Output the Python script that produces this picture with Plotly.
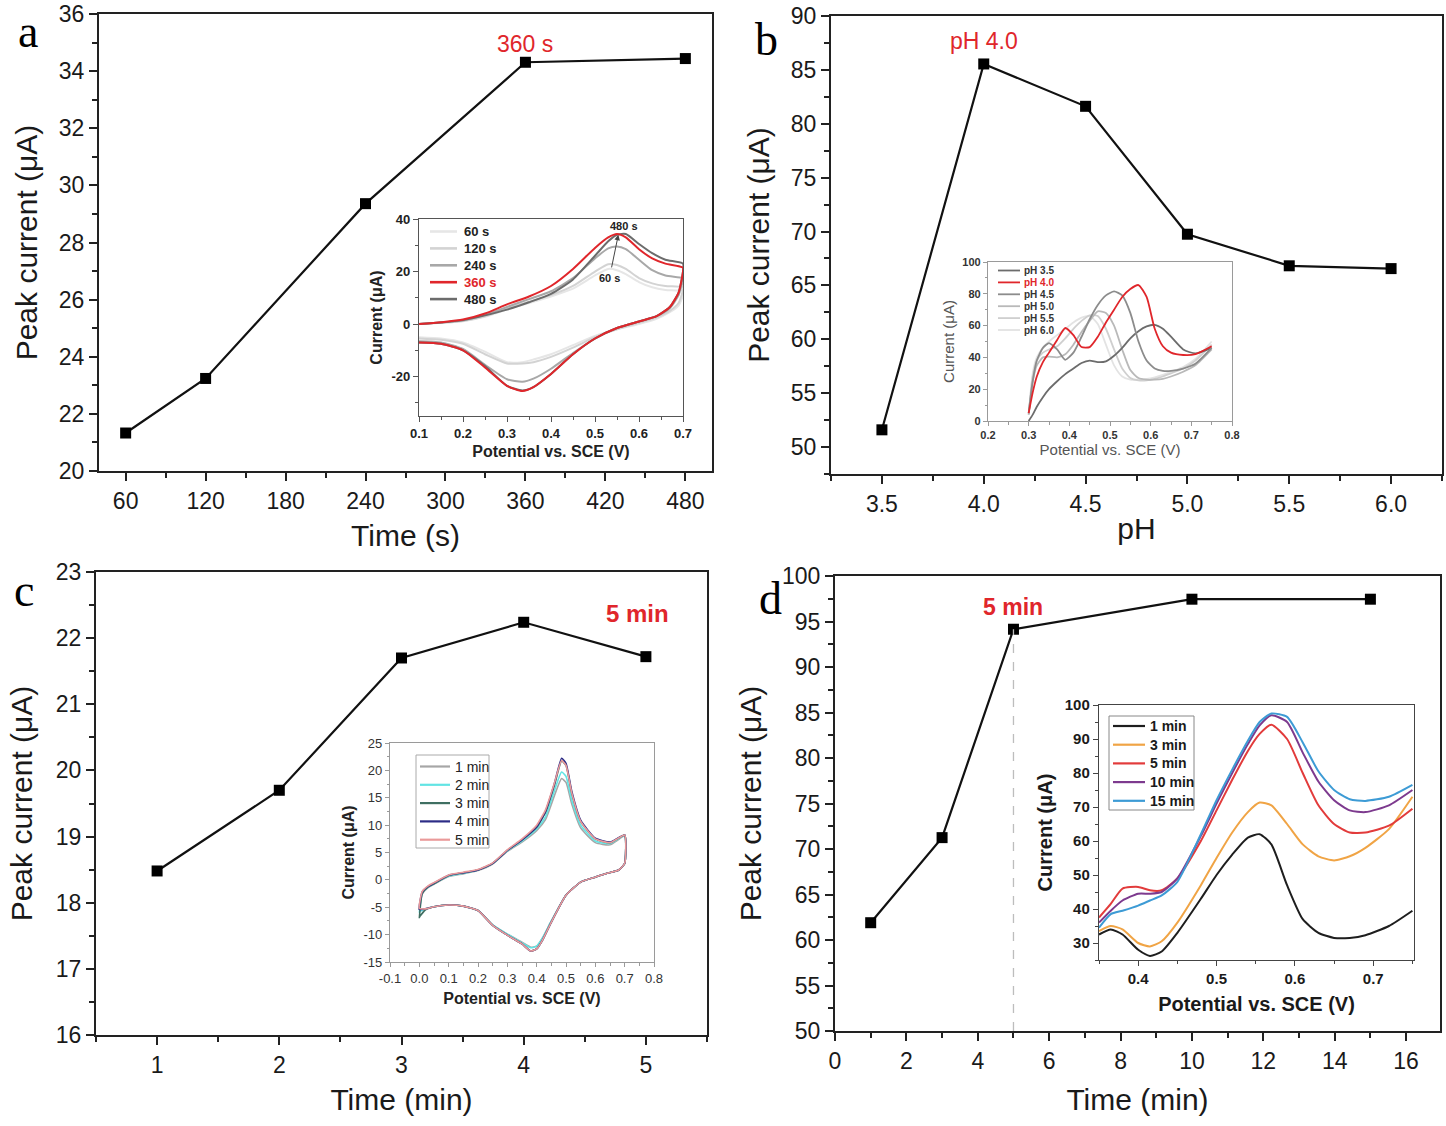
import plotly.graph_objects as go

# ---------------- data ----------------
# panel a: accumulation time
time_a = [60, 120, 240, 360, 480]
peak_a = [21.33, 23.24, 29.36, 34.31, 34.44]
# panel b: pH
ph_b = [3.5, 4.0, 4.5, 5.0, 5.5, 6.0]
peak_b = [51.6, 85.55, 81.62, 69.75, 66.82, 66.56]
# panel c: time (min)
time_c = [1, 2, 3, 4, 5]
peak_c = [18.48, 19.70, 21.70, 22.24, 21.72]
# panel d: time (min)
time_d = [1, 3, 5, 10, 15]
peak_d = [61.9, 71.25, 94.15, 97.45, 97.45]

# inset a: CV loops (forward then reverse scan)
cv_a_x = [0.10, 0.15, 0.20, 0.25, 0.30, 0.35, 0.40, 0.45, 0.50, 0.53, 0.55, 0.57, 0.60, 0.63, 0.66, 0.70,
          0.70, 0.69, 0.67, 0.64, 0.60, 0.55, 0.50, 0.45, 0.40, 0.36, 0.335, 0.30, 0.25, 0.20, 0.15, 0.10]
cv_a_60 = [0, 0.5, 1.1, 2.8, 5.5, 8, 10.5, 13.5, 18.5, 21, 20.5, 19, 16, 14, 13, 12.5,
           11, 7, 4.5, 2, 0, -2, -4.5, -8, -11.5, -13.5, -14.5, -14.5, -10.5, -7, -5.5, -5]
cv_a_120 = [0, 0.5, 1.2, 3, 6, 8.5, 11, 14.5, 20, 22.8, 22.5, 21, 17.5, 15.5, 14.5, 14,
            13, 8, 5, 2.5, 0.5, -2, -5, -9, -12.5, -14.5, -15, -15, -11.5, -7.5, -6, -5.5]
cv_a_240 = [0, 0.6, 1.4, 3.5, 6.5, 9.5, 12.5, 17.5, 25, 28.8, 29.5, 28.5, 24.5, 20.5, 18.5, 17.5,
            17, 11, 6, 3, 1, -1.5, -5.5, -11, -17, -20.8, -22, -21, -15.5, -9.5, -7, -6.5]
cv_a_360 = [0, 0.7, 1.7, 4, 7.5, 10.5, 14.5, 21, 29, 33, 34.3, 33, 28.5, 25, 23, 21.5,
            20, 12, 6.5, 3, 1, -1.5, -5.5, -11.5, -19, -24, -25.5, -23.5, -16.5, -10, -7.5, -7]
cv_a_480 = [0, 0.6, 1.5, 3.3, 5.5, 8.3, 11.5, 17, 26, 31.5, 34, 34.3, 30.5, 27, 24.5, 23,
            20, 12, 6.5, 3, 1, -1.5, -5.5, -11.5, -19, -24, -25.3, -23.5, -16, -10, -7.5, -7]
labels_a = ["60 s", "120 s", "240 s", "360 s", "480 s"]

# inset b: DPV curves at different pH
dpv_b_x = [0.30, 0.31, 0.32, 0.335, 0.35, 0.37, 0.39, 0.41, 0.43, 0.45, 0.47, 0.49, 0.51, 0.53, 0.55,
           0.57, 0.59, 0.61, 0.63, 0.65, 0.68, 0.71, 0.75]
dpv_b_35 = [0, 4, 9, 15, 20, 25, 29.5, 33, 36.5, 38, 37, 37.5, 41, 46, 52, 56.5, 59.5, 60.5, 58, 53, 45, 42.5, 46]
dpv_b_40 = [5, 18, 28, 37, 43, 51, 58.5, 54, 46.5, 46.5, 53, 62, 70, 78, 83, 85.5, 78, 58, 47, 43, 41.5, 42, 47]
dpv_b_45 = [5, 25, 38, 46, 49, 45, 38.5, 43, 53, 64, 73, 79, 81.5, 79, 68, 50, 38, 33, 31.5, 31.5, 33, 36, 46]
dpv_b_50 = [4, 25, 35, 40, 40.5, 40, 42, 48, 56, 63, 69, 68, 60, 45, 32, 27, 26, 26, 26.5, 28, 31, 35, 45]
dpv_b_55 = [4, 28, 38, 43, 45, 47, 52, 58, 63, 66.5, 66, 58, 45, 33, 27, 25.5, 25.5, 26.5, 28, 30, 33, 38, 48]
dpv_b_60 = [4, 30, 40, 46, 50, 54, 58, 62, 65, 66, 61, 48, 35, 28, 26, 26, 26.5, 27.5, 29, 31, 34, 39, 50]
labels_b = ["pH 3.5", "pH 4.0", "pH 4.5", "pH 5.0", "pH 5.5", "pH 6.0"]

# inset c: CV loops
cv_c_x = [0.0, 0.01, 0.03, 0.05, 0.1, 0.15, 0.2, 0.25, 0.3, 0.35, 0.4, 0.43, 0.46, 0.485, 0.5, 0.52, 0.55, 0.6, 0.65, 0.7,
          0.7, 0.68, 0.64, 0.6, 0.55, 0.5, 0.45, 0.42, 0.4, 0.38, 0.35, 0.3, 0.25, 0.2, 0.15, 0.1, 0.05, 0.02, 0.0]
cv_c_1 = [-5.5, -2.5, -1.4, -0.8, 0.6, 1.1, 1.7, 2.9, 5.2, 6.9, 9, 11, 15.3, 18.5, 17.8, 13.8, 9.5, 6.8, 6.4, 8,
          3, 1.8, 1.2, 0.5, -0.4, -2.8, -7.5, -10.6, -12.1, -12.3, -11.4, -9.9, -8.2, -5.6, -4.8, -4.6, -4.9, -5.3, -5.6]
cv_c_2 = [-6, -2.4, -1.3, -0.7, 0.7, 1.2, 1.8, 3, 5.3, 7.1, 9.3, 11.5, 16.2, 19.7, 18.9, 14.5, 10, 7.1, 6.6, 8.1,
          3, 1.8, 1.2, 0.5, -0.4, -2.8, -7.5, -10.6, -12.1, -12.4, -11.5, -9.9, -8.2, -5.6, -4.8, -4.6, -4.9, -5.3, -5.8]
cv_c_3 = [-7, -2.5, -1.3, -0.7, 0.8, 1.3, 1.8, 3, 5.4, 7.3, 9.6, 12.3, 17.2, 21.7, 20.9, 15.7, 10.7, 7.5, 6.8, 8.2,
          3, 1.8, 1.2, 0.5, -0.4, -2.8, -7.7, -11, -12.6, -13, -11.7, -10.1, -8.3, -5.6, -4.8, -4.6, -4.9, -5.5, -6.8]
cv_c_4 = [-5.4, -2.2, -1.2, -0.6, 0.85, 1.3, 1.8, 3, 5.4, 7.3, 9.7, 12.5, 17.5, 22.2, 21.3, 16.1, 10.9, 7.6, 6.9, 8.2,
          3, 1.8, 1.2, 0.5, -0.4, -2.8, -7.7, -11, -12.6, -13, -11.7, -10.1, -8.3, -5.6, -4.8, -4.6, -4.9, -5.3, -5.4]
cv_c_5 = [-5.2, -2.1, -1.1, -0.5, 0.9, 1.4, 1.9, 3.1, 5.5, 7.5, 10, 12.8, 17.6, 21.8, 20.9, 15.8, 10.7, 7.5, 6.8, 8.2,
          3, 1.8, 1.2, 0.5, -0.4, -2.8, -7.7, -11, -12.6, -13, -11.7, -10.1, -8.3, -5.6, -4.8, -4.6, -4.9, -5.3, -5.2]
labels_c = ["1 min", "2 min", "3 min", "4 min", "5 min"]

# inset d: DPV curves
dpv_d_x = [0.35, 0.365, 0.38, 0.40, 0.415, 0.43, 0.45, 0.48, 0.50, 0.52, 0.54, 0.555, 0.57, 0.59, 0.61,
           0.63, 0.65, 0.67, 0.69, 0.72, 0.75]
dpv_d_1 = [32.5, 34, 32.5, 28, 26.2, 27.5, 33, 43, 50, 56, 61, 62, 59, 47, 37, 33, 31.5, 31.5, 32.3, 35, 39.5]
dpv_d_3 = [33.5, 35, 34, 30, 29, 30.5, 36, 47, 55, 62.5, 68.5, 71.3, 70.5, 65, 59, 55.5, 54.3, 55.5, 58, 63.5, 73]
dpv_d_5 = [37.5, 41.5, 46, 46.5, 45.5, 45.5, 49, 60, 69, 78, 86.5, 91.5, 94.2, 90, 80, 70.5, 65, 62.5, 62.5, 64.5, 69.5]
dpv_d_10 = [36, 39.5, 42.5, 44.5, 44.5, 45, 49, 61.5, 71, 80, 88.5, 94, 97, 95, 86, 77.5, 72, 69, 68.5, 70.5, 75]
dpv_d_15 = [34.5, 38.5, 39.5, 41, 42.5, 44, 48, 62, 72, 81, 89.5, 95, 97.5, 96.5, 89, 80.5, 75, 72.3, 71.8, 73, 76.5]
labels_d = ["1 min", "3 min", "5 min", "10 min", "15 min"]

# ---------------- styling ----------------
W, H = 1446, 1126
SANS = "Liberation Sans, Arial, sans-serif"
SERIF = "Liberation Serif, Times New Roman, serif"
RED = "#e0262b"


def dx(a, b):
    return [a / W, b / W]


def dy(top, bottom):
    return [1 - bottom / H, 1 - top / H]


def axis(dom, rng, anchor, dtick, tick0, mdtick, font, title, tfont, standoff, lc, lw, tl,
         fmt=None, tickvals=None, ticktext=None):
    d = dict(domain=dom, range=rng, anchor=anchor, showline=True, mirror=True, linecolor=lc,
             linewidth=lw, ticks="outside", ticklen=tl, tickwidth=lw, tickcolor=lc, tickfont=font,
             showgrid=False, zeroline=False, fixedrange=True, automargin=False,
             title=dict(text=title, font=font if tfont is None else tfont, standoff=standoff),
             minor=dict(ticks="outside", ticklen=max(2, tl * 0.6), tickwidth=lw, tickcolor=lc,
                        tickmode="linear", tick0=tick0, dtick=mdtick, showgrid=False))
    if tickvals is not None:
        d.update(tickmode="array", tickvals=tickvals, ticktext=ticktext)
    else:
        d.update(tickmode="linear", dtick=dtick, tick0=tick0)
    if fmt:
        d["tickformat"] = fmt
    return d


fig = go.Figure()

main_tick = dict(family=SANS, size=23, color="#1a1a1a")
main_title = dict(family=SANS, size=30, color="#1a1a1a")
LC, LW, TL = "#222222", 2, 8

# main panels
for xs, ys, xa, ya in [(time_a, peak_a, "x", "y"), (ph_b, peak_b, "x2", "y2"),
                       (time_c, peak_c, "x3", "y3"), (time_d, peak_d, "x4", "y4")]:
    fig.add_trace(go.Scatter(x=xs, y=ys, xaxis=xa, yaxis=ya, mode="lines+markers",
                             line=dict(color="#111111", width=2.2),
                             marker=dict(symbol="square", size=11, color="#000000"),
                             showlegend=False, hoverinfo="skip"))

# dashed guide at the optimum of panel d
fig.add_trace(go.Scatter(x=[time_d[2], time_d[2]], y=[50, peak_d[2]], xaxis="x4", yaxis="y4",
                         mode="lines", line=dict(color="#bdbdbd", width=1.3, dash="dash"),
                         showlegend=False, hoverinfo="skip"))

# inset a
ins_a = [(cv_a_60, "#e6e6e6"), (cv_a_120, "#d3d3d3"), (cv_a_240, "#a8a8a8"), (cv_a_480, "#6c6c6c"),
         (cv_a_360, RED)]
for ys, col in ins_a:
    fig.add_trace(go.Scatter(x=cv_a_x, y=ys, xaxis="x5", yaxis="y5", mode="lines",
                             line=dict(color=col, width=2, shape="spline", smoothing=0.6),
                             showlegend=False, hoverinfo="skip"))
cols_a = ["#e6e6e6", "#d3d3d3", "#a8a8a8", RED, "#6c6c6c"]

# inset b
cols_b = ["#6c6c6c", RED, "#8c8c8c", "#b9b9b9", "#cfcfcf", "#e3e3e3"]
ins_b = [dpv_b_60, dpv_b_55, dpv_b_50, dpv_b_35, dpv_b_45, dpv_b_40]
ord_b = [5, 4, 3, 0, 2, 1]
for ys, k in zip(ins_b, ord_b):
    fig.add_trace(go.Scatter(x=dpv_b_x, y=ys, xaxis="x6", yaxis="y6", mode="lines",
                             line=dict(color=cols_b[k], width=1.8, shape="spline", smoothing=0.6),
                             showlegend=False, hoverinfo="skip"))

# inset c
cols_c = ["#a6a6a6", "#62e4e4", "#3f6f62", "#2c2c86", "#ea9a9a"]
for ys, col in zip([cv_c_1, cv_c_2, cv_c_3, cv_c_4, cv_c_5], cols_c):
    fig.add_trace(go.Scatter(x=cv_c_x, y=ys, xaxis="x7", yaxis="y7", mode="lines",
                             line=dict(color=col, width=1.6, shape="spline", smoothing=0.5),
                             showlegend=False, hoverinfo="skip"))

# inset d
cols_d = ["#1e1e1e", "#f0a445", "#e23b3b", "#7d3a8e", "#3d9bd5"]
for ys, col in zip([dpv_d_1, dpv_d_3, dpv_d_5, dpv_d_10, dpv_d_15], cols_d):
    fig.add_trace(go.Scatter(x=dpv_d_x, y=ys, xaxis="x8", yaxis="y8", mode="lines",
                             line=dict(color=col, width=2, shape="spline", smoothing=0.6),
                             showlegend=False, hoverinfo="skip"))

# ---------------- axes ----------------
lay = {}
lay["xaxis"] = axis(dx(99, 712), [40, 500], "y", 60, 60, 30, main_tick, "Time (s)", main_title, 12, LC, LW, TL)
lay["yaxis"] = axis(dy(14, 471), [20, 36], "x", 2, 20, 1, main_tick, "Peak current (μA)", main_title, 12, LC, LW, TL)
lay["xaxis2"] = axis(dx(831, 1442), [3.25, 6.25], "y2", 0.5, 3.5, 0.25, main_tick, "pH", main_title, 2, LC, LW, TL, fmt=".1f")
lay["yaxis2"] = axis(dy(16, 474), [47.5, 90], "x2", 5, 50, 2.5, main_tick, "Peak current (μA)", main_title, 12, LC, LW, TL)
lay["xaxis3"] = axis(dx(96, 707), [0.5, 5.5], "y3", 1, 1, 0.5, main_tick, "Time (min)", main_title, 12, LC, LW, TL)
lay["yaxis3"] = axis(dy(572, 1035), [16, 23], "x3", 1, 16, 0.5, main_tick, "Peak current (μA)", main_title, 14, LC, LW, TL)
lay["xaxis4"] = axis(dx(835, 1440), [0, 16.95], "y4", 2, 0, 1, main_tick, "Time (min)", main_title, 16, LC, LW, TL)
lay["yaxis4"] = axis(dy(576, 1031), [50, 100], "x4", 5, 50, 2.5, main_tick, "Peak current (μA)", main_title, 12, LC, LW, TL)

# inset axes
fa = dict(family=SANS, size=13, color="#222222")
fat = dict(family=SANS, size=16, color="#222222")
va = [-20, 0, 20, 40]
lay["xaxis5"] = axis(dx(419, 683), [0.1, 0.7], "y5", 0.1, 0.1, 0.05, fa, "<b>Potential vs. SCE (V)</b>", fat, 6,
                     "#555555", 1.4, 5, fmt=".1f")
lay["yaxis5"] = axis(dy(219, 416), [-35, 40], "x5", 20, -20, 10, fa, "<b>Current (μA)</b>", fat, 4,
                     "#555555", 1.4, 5, tickvals=va, ticktext=[f"<b>{v}</b>" for v in va])
lay["xaxis5"]["tickprefix"] = "<b>"
lay["xaxis5"]["ticksuffix"] = "</b>"

fb = dict(family=SANS, size=11, color="#333333")
fbt = dict(family=SANS, size=15, color="#555555")
lay["xaxis6"] = axis(dx(988, 1232), [0.2, 0.8], "y6", 0.1, 0.2, 0.05, fb, "Potential vs. SCE (V)", fbt, 4,
                     "#9a9a9a", 1.2, 4, fmt=".1f")
lay["yaxis6"] = axis(dy(262, 421), [0, 100], "x6", 20, 0, 10, fb, "Current (μA)", fbt, 4,
                     "#9a9a9a", 1.2, 4)
for k in ["xaxis6", "yaxis6"]:
    lay[k]["tickprefix"] = "<b>"
    lay[k]["ticksuffix"] = "</b>"

fc = dict(family=SANS, size=13, color="#333333")
fct = dict(family=SANS, size=16, color="#222222")
vcx = [-0.1, 0.0, 0.1, 0.2, 0.3, 0.4, 0.5, 0.6, 0.7, 0.8]
vcy = [-15, -10, -5, 0, 5, 10, 15, 20, 25]
lay["xaxis7"] = axis(dx(390, 654), [-0.1, 0.8], "y7", 0.1, -0.1, 0.05, fc, "<b>Potential vs. SCE (V)</b>", fct, 8,
                     "#9a9a9a", 1.2, 4, tickvals=vcx, ticktext=[f"{v:.1f}" for v in vcx])
lay["yaxis7"] = axis(dy(743, 962), [-15, 25], "x7", 5, -15, 2.5, fc, "<b>Current (μA)</b>", fct, 4,
                     "#9a9a9a", 1.2, 4, tickvals=vcy, ticktext=[str(v) for v in vcy])

fd = dict(family=SANS, size=15, color="#1a1a1a")
fdt = dict(family=SANS, size=20, color="#1a1a1a")
lay["xaxis8"] = axis(dx(1099, 1414), [0.35, 0.752], "y8", 0.1, 0.4, 0.05, fd, "<b>Potential vs. SCE (V)</b>", fdt, 10,
                     "#444444", 1.4, 5, fmt=".1f")
lay["yaxis8"] = axis(dy(705, 960), [25, 100], "x8", 10, 30, 5, fd, "<b>Current (μA)</b>", fdt, 6,
                     "#444444", 1.4, 5)
for k in ["xaxis8", "yaxis8"]:
    lay[k]["tickprefix"] = "<b>"
    lay[k]["ticksuffix"] = "</b>"

fig.update_layout(**lay)

# ---------------- annotations & legends ----------------
ann = []
shapes = []


def P(px, py):
    return px / W, 1 - py / H


for t, px, py in [("a", 28, 32), ("b", 766, 40), ("c", 24, 590), ("d", 770, 598)]:
    x, y = P(px, py)
    ann.append(dict(text=t, x=x, y=y, xref="paper", yref="paper", showarrow=False,
                    font=dict(family=SERIF, size=46, color="#000000"), xanchor="center", yanchor="middle"))

ann.append(dict(text="360 s", x=time_a[3], y=34.95, xref="x", yref="y", showarrow=False,
                font=dict(family=SANS, size=23, color=RED), xanchor="center", yanchor="middle"))
ann.append(dict(text="pH 4.0", x=ph_b[1], y=87.7, xref="x2", yref="y2", showarrow=False,
                font=dict(family=SANS, size=23, color=RED), xanchor="center", yanchor="middle"))
ann.append(dict(text="<b>5 min</b>", x=4.93, y=22.37, xref="x3", yref="y3", showarrow=False,
                font=dict(family=SANS, size=24, color=RED), xanchor="center", yanchor="middle"))
ann.append(dict(text="<b>5 min</b>", x=time_d[2], y=96.6, xref="x4", yref="y4", showarrow=False,
                font=dict(family=SANS, size=23, color=RED), xanchor="center", yanchor="middle"))

# arrow in inset a
ann.append(dict(text="", x=0.553, y=34.0, ax=0.537, ay=21.0, xref="x5", yref="y5", axref="x5", ayref="y5",
                showarrow=True, arrowhead=2, arrowsize=1.1, arrowwidth=1, arrowcolor="#444444"))
ann.append(dict(text="<b>480 s</b>", x=0.567, y=37.3, xref="x5", yref="y5", showarrow=False,
                font=dict(family=SANS, size=11, color="#222222")))
ann.append(dict(text="<b>60 s</b>", x=0.533, y=17.6, xref="x5", yref="y5", showarrow=False,
                font=dict(family=SANS, size=11, color="#222222")))


def legend(labels, colors, x0, x1, xt, y0, ddy, font, lw, textcolors):
    for i, (lab, col, tc) in enumerate(zip(labels, colors, textcolors)):
        yy = y0 + i * ddy
        xa, ya = P(x0, yy)
        xb, _ = P(x1, yy)
        shapes.append(dict(type="line", xref="paper", yref="paper", x0=xa, x1=xb, y0=ya, y1=ya,
                           line=dict(color=col, width=lw)))
        xt_, _ = P(xt, yy)
        f = dict(font)
        f["color"] = tc
        ann.append(dict(text=lab, x=xt_, y=ya, xref="paper", yref="paper", showarrow=False,
                        xanchor="left", yanchor="middle", font=f))


legend([f"<b>{l}</b>" for l in labels_a], cols_a, 430, 457, 462, 231.5, 16.9,
       dict(family=SANS, size=13), 2.6, ["#222222", "#222222", "#222222", RED, "#222222"])
legend([f"<b>{l}</b>" for l in labels_b], cols_b, 998, 1020, 1022, 270.5, 11.9,
       dict(family=SANS, size=10), 1.8, ["#333333", RED, "#333333", "#333333", "#333333", "#333333"])
legend(labels_c, cols_c, 420, 450, 453, 766.5, 18.3, dict(family=SANS, size=14), 2.2, ["#222222"] * 5)
legend([f"<b>{l}</b>" for l in labels_d], cols_d, 1113, 1145, 1148, 726, 18.7,
       dict(family=SANS, size=14), 2.2, ["#1a1a1a"] * 5)

# legend boxes for c and d
for (l, t, r, b), col in [((416, 755, 489, 848), "#aaaaaa"), ((1109, 716, 1194, 810), "#888888")]:
    x0, y1 = P(l, t)
    x1, y0 = P(r, b)
    shapes.append(dict(type="rect", xref="paper", yref="paper", x0=x0, x1=x1, y0=y0, y1=y1,
                       line=dict(color=col, width=1)))

fig.update_layout(annotations=ann, shapes=shapes, width=W, height=H,
                  margin=dict(l=0, r=0, t=0, b=0, autoexpand=False), paper_bgcolor="white",
                  plot_bgcolor="white", showlegend=False)

fig.write_html("out.html", config={"displayModeBar": False},
               post_script="document.body.style.margin='0';document.body.style.overflow='hidden';")
